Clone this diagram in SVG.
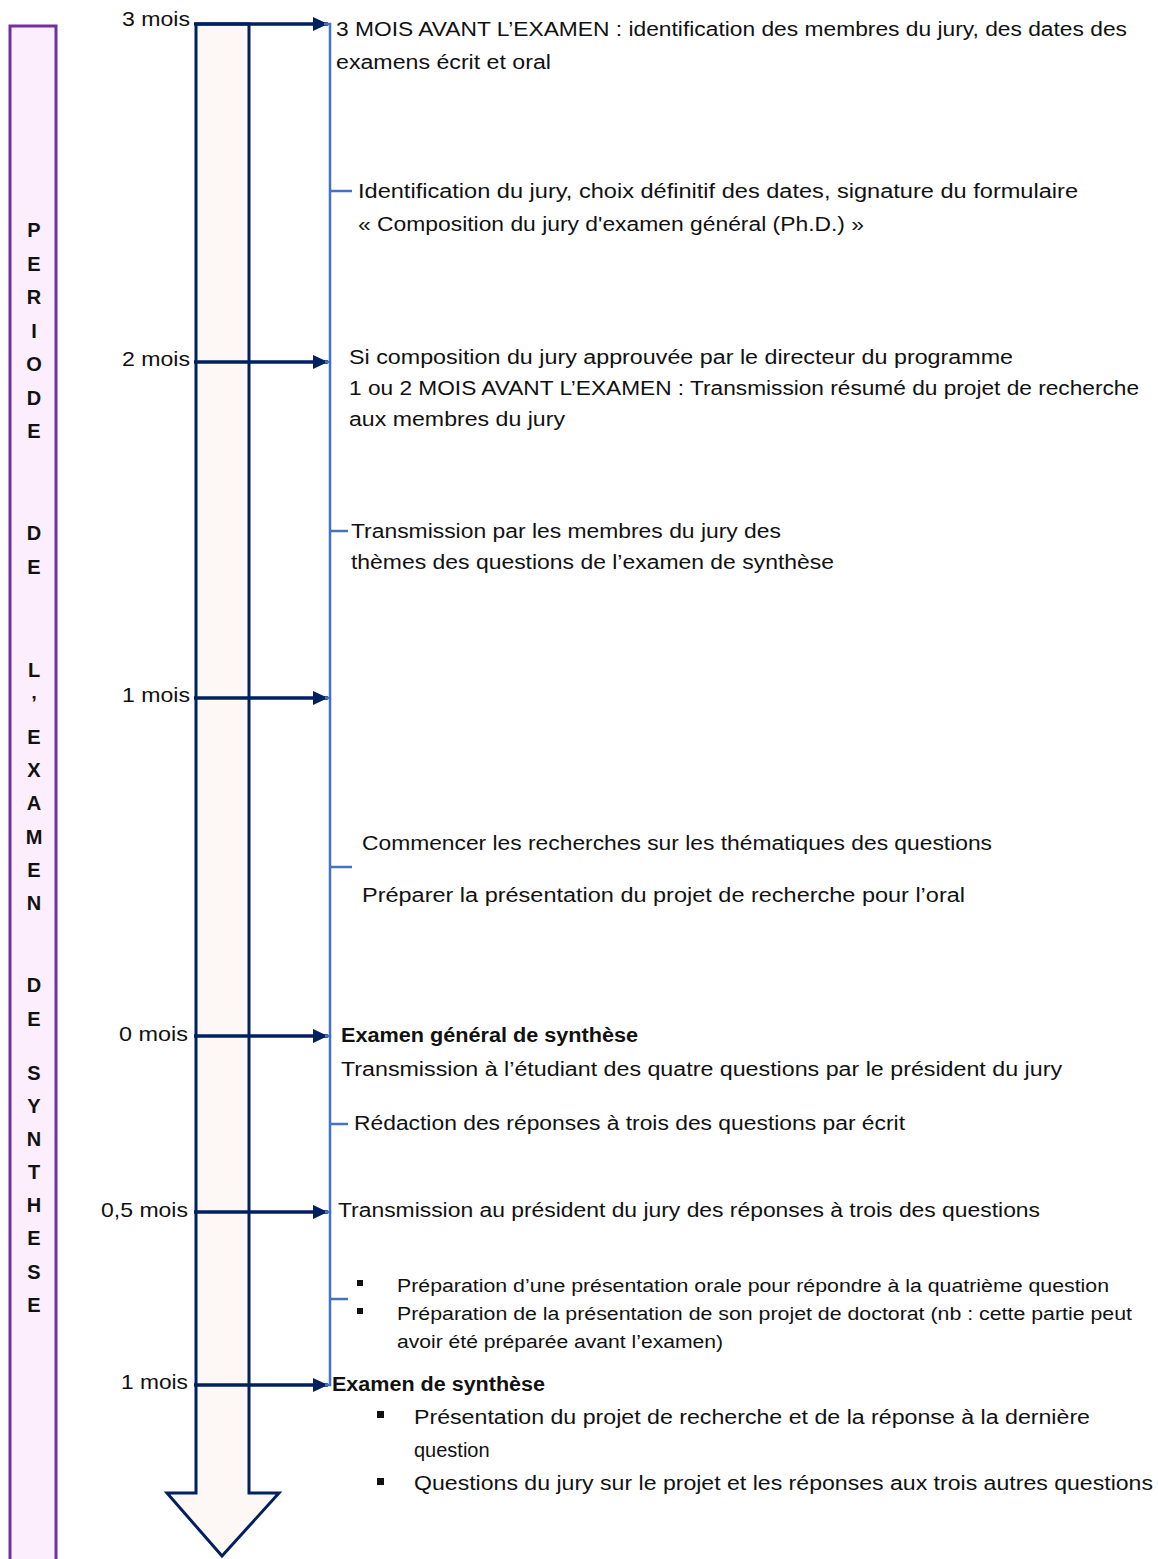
<svg xmlns="http://www.w3.org/2000/svg" width="1158" height="1559" viewBox="0 0 1158 1559">
<defs>
<marker id="ah" markerUnits="userSpaceOnUse" markerWidth="16" markerHeight="14" refX="15" refY="7" orient="auto">
<path d="M0,0 L15,7 L0,14 Z" fill="#002060"/>
</marker>
<style>
.t{font-family:"Liberation Sans",Arial,sans-serif;font-size:20px;fill:#111}
.s{font-family:"Liberation Sans",Arial,sans-serif;font-size:18px;fill:#111}
.b{font-weight:bold}
.lbl{font-family:"Liberation Sans",Arial,sans-serif;font-size:21px;fill:#111;text-anchor:end}
.v{font-family:"Liberation Sans",Arial,sans-serif;font-size:20px;font-weight:bold;fill:#111;text-anchor:middle}
.tl{stroke:#002060;stroke-width:3.5;fill:none;marker-end:url(#ah)}
.br{stroke:#4472C4;stroke-width:2.5;fill:none}
.bul{fill:#111}
</style>
</defs>
<rect width="1158" height="1559" fill="#ffffff"/>

<g id="periode-bar">
<rect x="10" y="26" width="46" height="1545" fill="#FCEEFC" stroke="#7030A0" stroke-width="3"/>
<text class="v" x="34" y="237">P</text>
<text class="v" x="34" y="271">E</text>
<text class="v" x="34" y="304">R</text>
<text class="v" x="34" y="338">I</text>
<text class="v" x="34" y="371">O</text>
<text class="v" x="34" y="405">D</text>
<text class="v" x="34" y="438">E</text>
<text class="v" x="34" y="540">D</text>
<text class="v" x="34" y="574">E</text>
<text class="v" x="34" y="677">L</text>
<text class="v" x="34" y="710">’</text>
<text class="v" x="34" y="744">E</text>
<text class="v" x="34" y="777">X</text>
<text class="v" x="34" y="810">A</text>
<text class="v" x="34" y="844">M</text>
<text class="v" x="34" y="877">E</text>
<text class="v" x="34" y="910">N</text>
<text class="v" x="34" y="992">D</text>
<text class="v" x="34" y="1026">E</text>
<text class="v" x="34" y="1080">S</text>
<text class="v" x="34" y="1113">Y</text>
<text class="v" x="34" y="1146">N</text>
<text class="v" x="34" y="1179">T</text>
<text class="v" x="34" y="1212">H</text>
<text class="v" x="34" y="1245">E</text>
<text class="v" x="34" y="1279">S</text>
<text class="v" x="34" y="1312">E</text>
</g>

<g id="time-arrow">
<path d="M196,24 H249 V1493 H279 L222,1556 L167,1493 H196 Z" fill="#FDF8F6" stroke="#002060" stroke-width="3" stroke-linejoin="miter"/>
</g>

<g id="connectors">
<line class="tl" x1="194" y1="24" x2="328" y2="24"/>
<line class="tl" x1="194" y1="362" x2="328" y2="362"/>
<line class="tl" x1="194" y1="698" x2="328" y2="698"/>
<line class="tl" x1="194" y1="1036" x2="328" y2="1036"/>
<line class="tl" x1="194" y1="1212" x2="328" y2="1212"/>
<line class="tl" x1="194" y1="1385" x2="328" y2="1385"/>
<path class="br" d="M324,24 H330 V362 H325 M330,191 H352"/>
<path class="br" d="M330,362 V698 H325 M330,531 H348"/>
<path class="br" d="M330,698 V1036 H325 M330,867 H352"/>
<path class="br" d="M330,1036 V1212 H325 M330,1124 H348"/>
<path class="br" d="M330,1212 V1385 H325 M330,1299 H348"/>
</g>

<g id="labels-time">
<text class="lbl" x="190" y="26" textLength="68" lengthAdjust="spacingAndGlyphs">3 mois</text>
<text class="lbl" x="190" y="366" textLength="68" lengthAdjust="spacingAndGlyphs">2 mois</text>
<text class="lbl" x="190" y="702" textLength="68" lengthAdjust="spacingAndGlyphs">1 mois</text>
<text class="lbl" x="188" y="1041" textLength="69" lengthAdjust="spacingAndGlyphs">0 mois</text>
<text class="lbl" x="188" y="1217" textLength="87" lengthAdjust="spacingAndGlyphs">0,5 mois</text>
<text class="lbl" x="188" y="1389" textLength="67" lengthAdjust="spacingAndGlyphs">1 mois</text>
</g>

<g id="node-3mois">
<text class="t" x="336" y="36" textLength="791" lengthAdjust="spacingAndGlyphs">3 MOIS AVANT L’EXAMEN : identification des membres du jury, des dates des</text>
<text class="t" x="336" y="69" textLength="215" lengthAdjust="spacingAndGlyphs">examens écrit et oral</text>
</g>

<g id="node-identification">
<text class="t" x="358" y="198" textLength="720" lengthAdjust="spacingAndGlyphs">Identification du jury, choix définitif des dates, signature du formulaire</text>
<text class="t" x="358" y="231" textLength="506" lengthAdjust="spacingAndGlyphs">« Composition du jury d'examen général (Ph.D.) »</text>
</g>

<g id="node-2mois">
<text class="t" x="349" y="364" textLength="664" lengthAdjust="spacingAndGlyphs">Si composition du jury approuvée par le directeur du programme</text>
<text class="t" x="349" y="395" textLength="790" lengthAdjust="spacingAndGlyphs">1 ou 2 MOIS AVANT L’EXAMEN : Transmission résumé du projet de recherche</text>
<text class="t" x="349" y="426" textLength="216" lengthAdjust="spacingAndGlyphs">aux membres du jury</text>
</g>

<g id="node-themes">
<text class="t" x="351" y="538" textLength="430" lengthAdjust="spacingAndGlyphs">Transmission par les membres du jury des</text>
<text class="t" x="351" y="569" textLength="483" lengthAdjust="spacingAndGlyphs">thèmes des questions de l’examen de synthèse</text>
</g>

<g id="node-recherches">
<text class="t" x="362" y="850" textLength="630" lengthAdjust="spacingAndGlyphs">Commencer les recherches sur les thématiques des questions</text>
<text class="t" x="362" y="902" textLength="603" lengthAdjust="spacingAndGlyphs">Préparer la présentation du projet de recherche pour l’oral</text>
</g>

<g id="node-0mois">
<text class="t b" x="341" y="1042" textLength="297" lengthAdjust="spacingAndGlyphs">Examen général de synthèse</text>
<text class="t" x="341" y="1076" textLength="721" lengthAdjust="spacingAndGlyphs">Transmission à l’étudiant des quatre questions par le président du jury</text>
</g>

<g id="node-redaction">
<text class="t" x="354" y="1130" textLength="551" lengthAdjust="spacingAndGlyphs">Rédaction des réponses à trois des questions par écrit</text>
</g>

<g id="node-05mois">
<text class="t" x="338" y="1217" textLength="702" lengthAdjust="spacingAndGlyphs">Transmission au président du jury des réponses à trois des questions</text>
</g>

<g id="node-preparation">
<rect class="bul" x="357" y="1280" width="6" height="6"/>
<rect class="bul" x="357" y="1308" width="6" height="6"/>
<text class="s" x="397" y="1292" textLength="712" lengthAdjust="spacingAndGlyphs">Préparation d’une présentation orale pour répondre à la quatrième question</text>
<text class="s" x="397" y="1320" textLength="735" lengthAdjust="spacingAndGlyphs">Préparation de la présentation de son projet de doctorat (nb : cette partie peut</text>
<text class="s" x="397" y="1348" textLength="326" lengthAdjust="spacingAndGlyphs">avoir été préparée avant l’examen)</text>
</g>

<g id="node-examen">
<text class="t b" x="332" y="1391" textLength="213" lengthAdjust="spacingAndGlyphs">Examen de synthèse</text>
<rect class="bul" x="377" y="1411" width="7" height="7"/>
<rect class="bul" x="377" y="1478" width="7" height="7"/>
<text class="t" x="414" y="1424" textLength="676" lengthAdjust="spacingAndGlyphs">Présentation du projet de recherche et de la réponse à la dernière</text>
<text class="t" x="414" y="1457">question</text>
<text class="t" x="414" y="1490" textLength="739" lengthAdjust="spacingAndGlyphs">Questions du jury sur le projet et les réponses aux trois autres questions</text>
</g>
</svg>
